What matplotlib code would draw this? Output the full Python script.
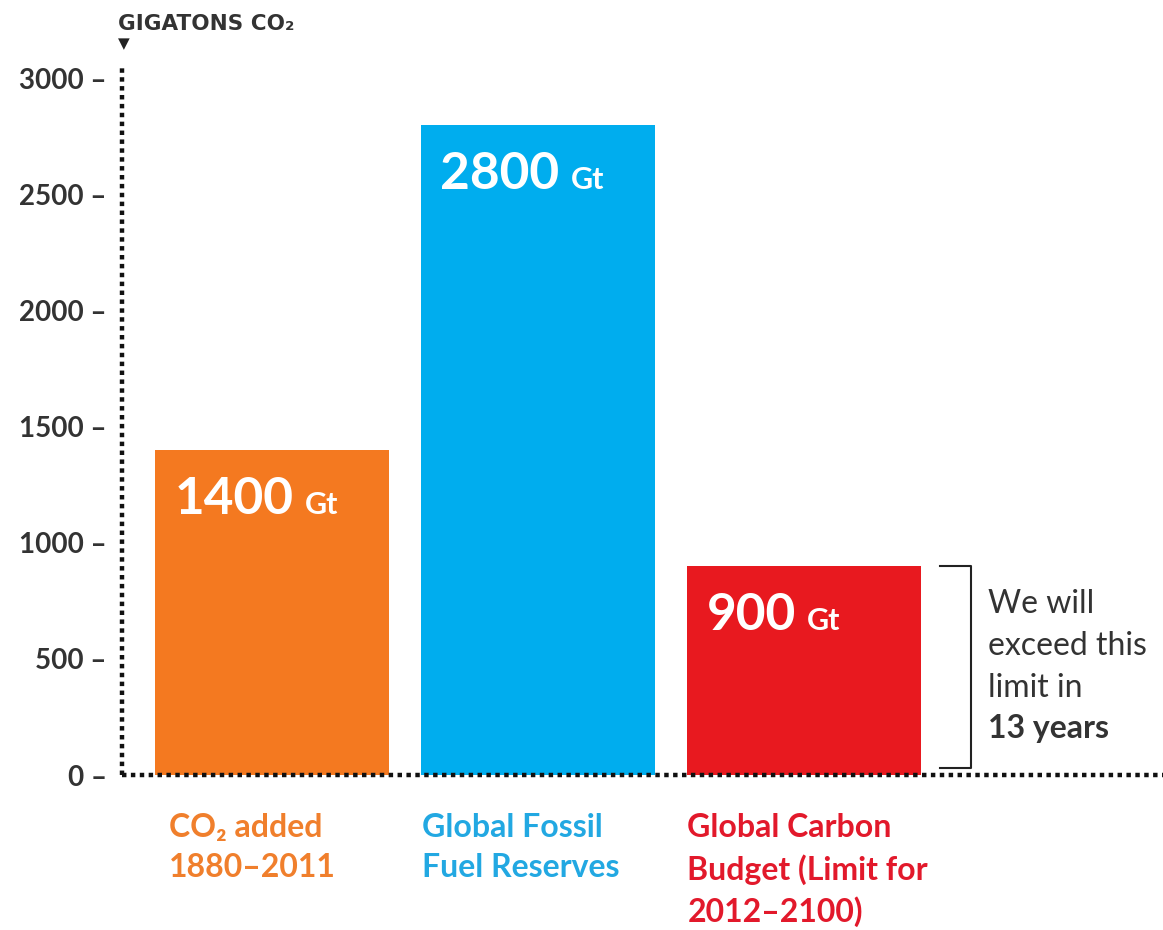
import numpy as np
import matplotlib
matplotlib.use("Agg")
import matplotlib.pyplot as plt

plt.rcParams['font.family'] = ['Lato', 'DejaVu Sans']

# data
categories = ["CO\u2082 added\n1880\u20132011",
              "Global Fossil\nFuel Reserves",
              "Global Carbon\nBudget (Limit for\n2012\u20132100)"]
values = [1400, 2800, 900]
value_labels = ["1400", "2800", "900"]
bar_colors = ["#F47920", "#00ADEE", "#E8191F"]
text_colors = ["#F07F2C", "#22A8E2", "#E2192B"]
yticks = [0, 500, 1000, 1500, 2000, 2500, 3000]
note_lines = ["We will", "exceed this", "limit in", "13 years"]

fig = plt.figure(figsize=(11.63, 9.30), dpi=100)
ax = fig.add_axes([122/1163, 1-775/930, 1-122/1163, (775-68)/930])

x = np.arange(len(values))
ax.bar(x, values, width=0.883, color=bar_colors, zorder=1)
ax.set_xlim(-0.564, 3.35)
ax.set_ylim(0, 3045)

# dotted axes drawn as lines
for s in ax.spines:
    ax.spines[s].set_visible(False)
ax.axhline(0, color='#111111', lw=3.2, ls=(0, (1, 1)), zorder=3, clip_on=False)
ax.axvline(-0.564, color='#111111', lw=3.2, ls=(0, (1, 1)), zorder=3, clip_on=False)

ax.set_xticks([])
ax.set_yticks(yticks)
ax.set_yticklabels([f"{v} \u2013" for v in yticks], fontsize=20, fontweight='bold', color='#333333')
ax.tick_params(axis='y', length=0, pad=11)

# value labels inside bars
fig.canvas.draw()
r = fig.canvas.get_renderer()
for i, v in enumerate(values):
    left = x[i] - 0.883/2 + 0.075
    t = ax.text(left, v - 275, value_labels[i], color='white', fontsize=37,
                fontweight='bold', va='baseline', ha='left')
    bb = t.get_window_extent(renderer=r)
    xe = ax.transData.inverted().transform((bb.x1 + 11, bb.y0))[0]
    ax.text(xe, v - 275, "Gt", color='white', fontsize=22, fontweight='bold',
            va='baseline', ha='left')

# category labels
label_shift = [0.055, 0.005, 0.003]
for i, c in enumerate(categories):
    left = x[i] - 0.883/2 + label_shift[i]
    ax.text(left, -165, c, color=text_colors[i], fontsize=23, fontweight='bold',
            va='top', ha='left', linespacing=1.45, clip_on=False)

# bracket next to the budget bar
ax.plot([2.511, 2.628, 2.628, 2.511], [900, 900, 30, 30], color='#222222', lw=1.5)
note_y = [697, 516, 336, 159]
for j, line in enumerate(note_lines):
    ax.text(2.692, note_y[j], line, fontsize=23, color='#333333',
            fontweight='bold' if j == 3 else 'normal', va='baseline', ha='left')

# unit label
fig.text(118/1163, 1-30/930, "GIGATONS CO\u2082", fontsize=15.5, fontweight='bold',
         color='#333333', ha='left', va='baseline', family='DejaVu Sans')
fig.text(124/1163, 1-44/930, "\u25BC", fontsize=11, color='#222222', ha='center', va='center',
         family='DejaVu Sans')

fig.savefig("out.png", dpi=100)
